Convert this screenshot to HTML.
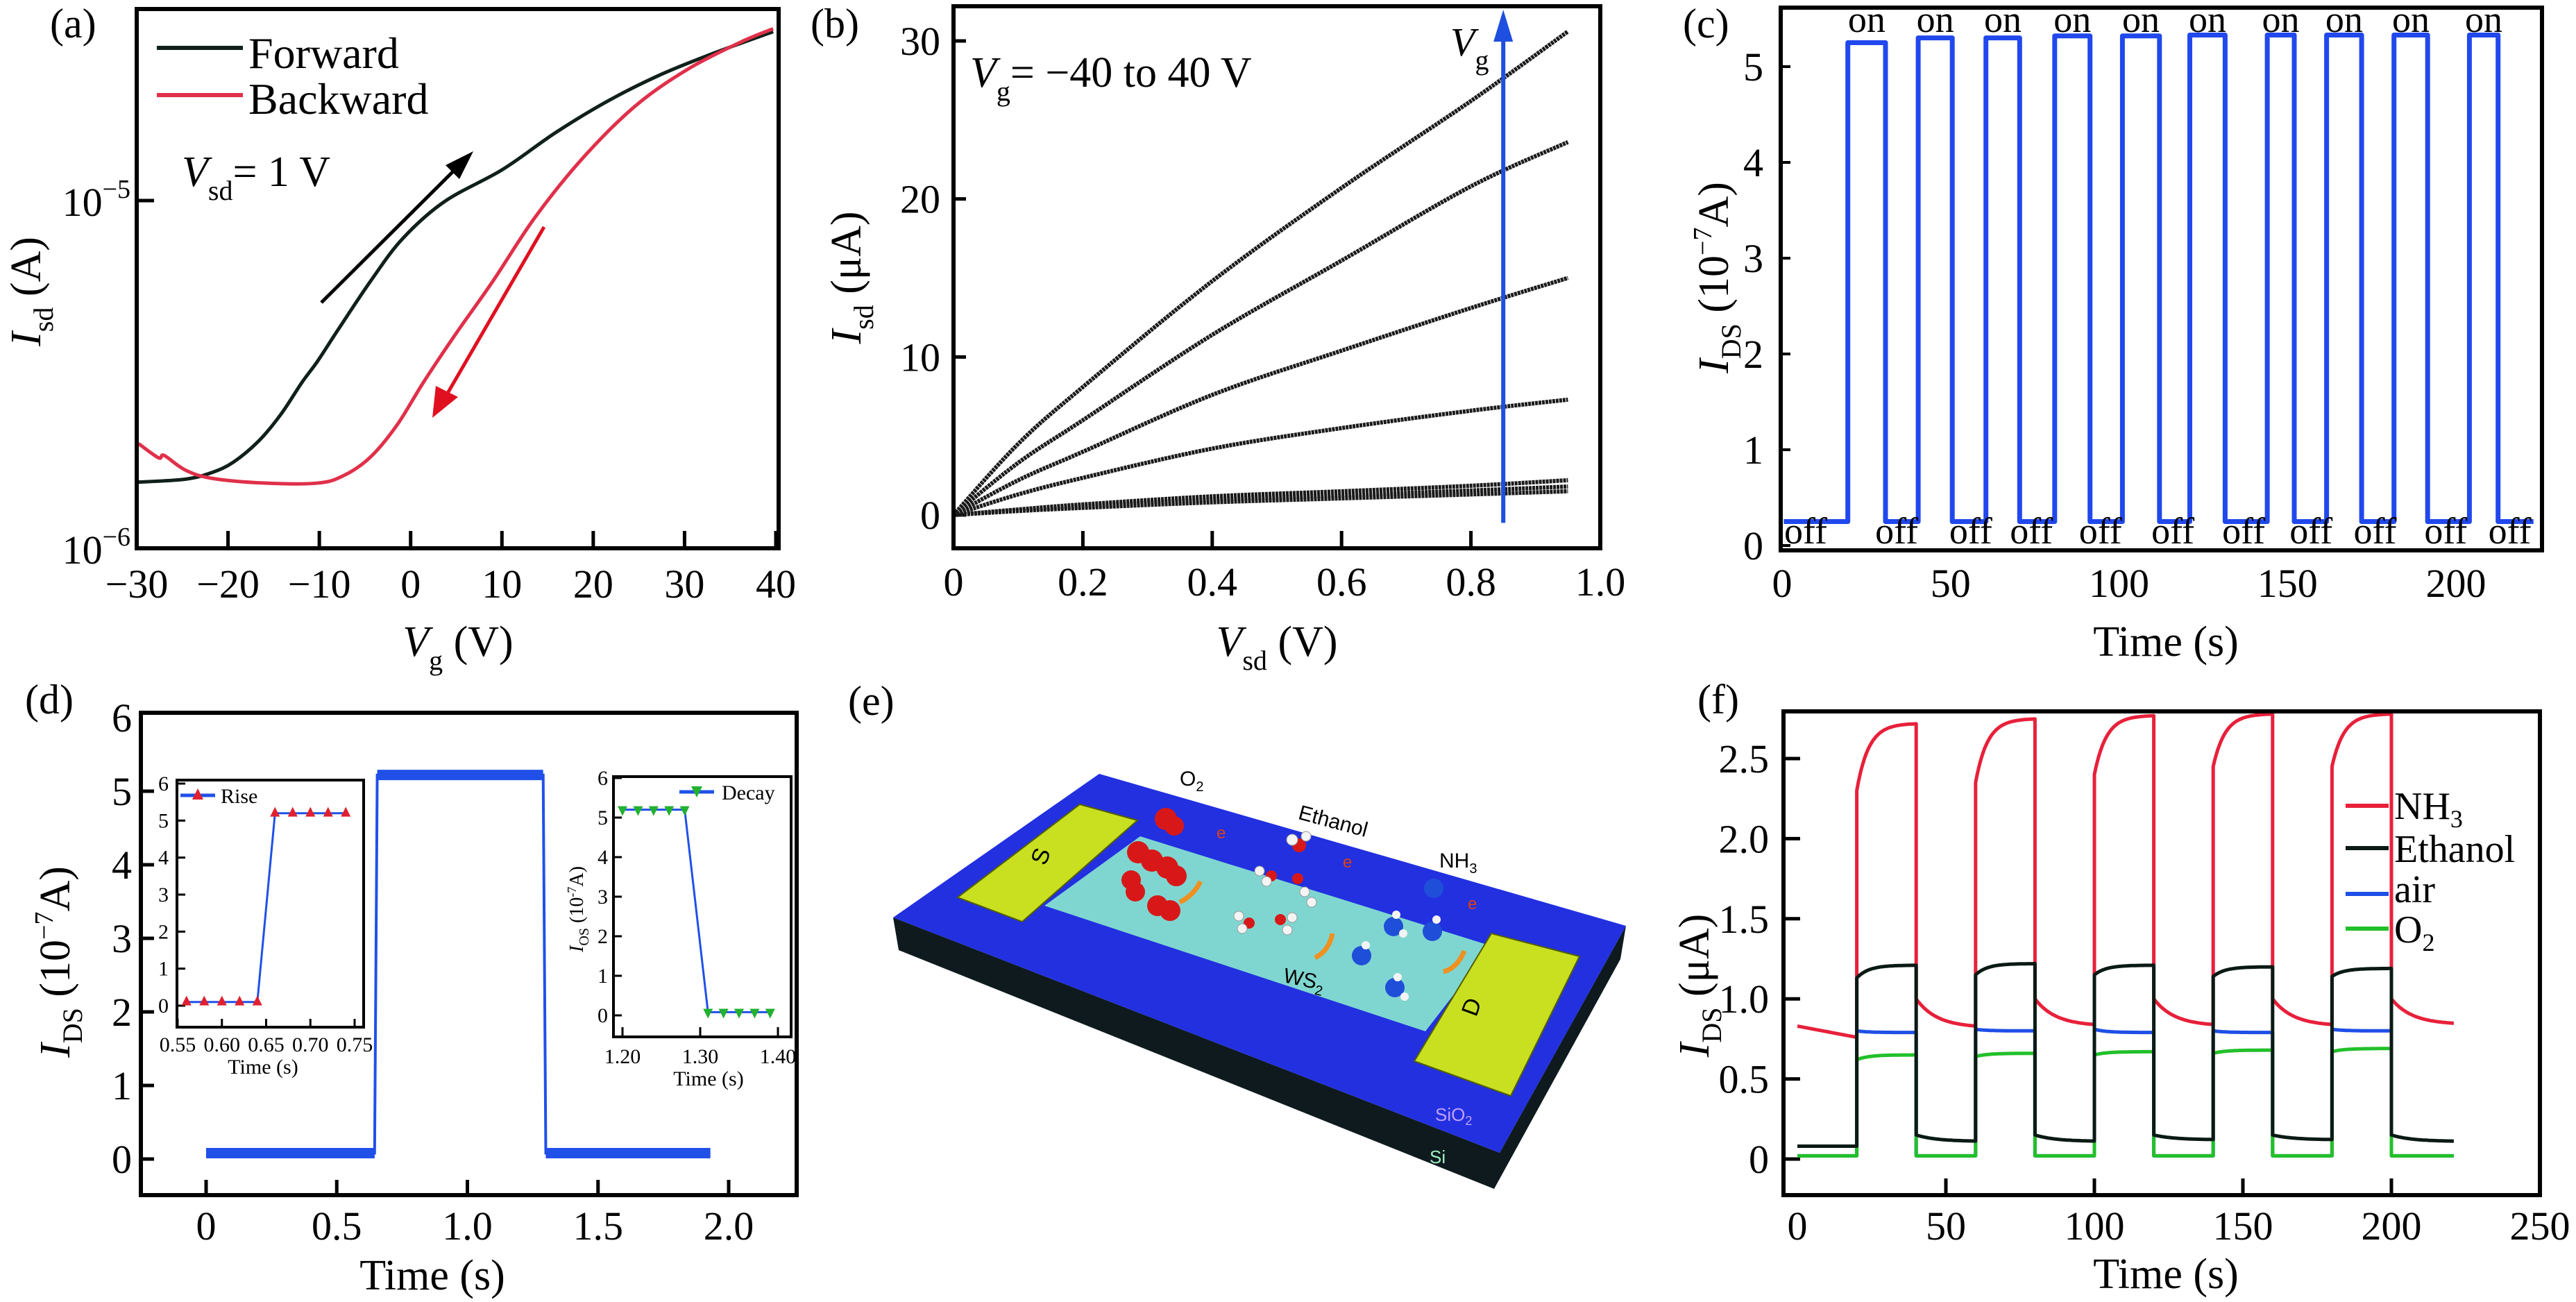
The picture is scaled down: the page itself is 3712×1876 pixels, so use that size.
<!DOCTYPE html>
<html><head><meta charset="utf-8"><style>
html,body{margin:0;padding:0;background:#fff}
svg{display:block;font-family:"Liberation Serif",serif}
</style></head><body>
<svg id="fig" width="3712" height="1876" viewBox="0 0 3712 1876" xmlns="http://www.w3.org/2000/svg">
<rect x="0" y="0" width="3712" height="1876" fill="#fff"/>
<text x="72" y="54" font-size="60">(a)</text>
<text x="1168" y="54" font-size="60">(b)</text>
<text x="2425" y="54" font-size="60">(c)</text>
<text x="36" y="1028" font-size="60">(d)</text>
<text x="1222" y="1030" font-size="60">(e)</text>
<text x="2446" y="1028" font-size="60">(f)</text>

<g>
<line x1="226" y1="69" x2="350" y2="69" stroke="#10201a" stroke-width="6"/>
<text x="358" y="98" font-size="64">Forward</text>
<line x1="226" y1="137" x2="350" y2="137" stroke="#e0304a" stroke-width="6"/>
<text x="358" y="164" font-size="64">Backward</text>
</g>
<text x="262" y="268" font-size="62"><tspan font-style="italic">V</tspan><tspan font-size="40" dy="20">sd</tspan><tspan dy="-20">= 1 V</tspan></text>
<text transform="translate(58,420) rotate(-90)" text-anchor="middle" font-size="62"><tspan font-style="italic">I</tspan><tspan font-size="40" dy="18">sd</tspan><tspan dy="-18"> (A)</tspan></text>
<text x="660" y="945" text-anchor="middle" font-size="62"><tspan font-style="italic">V</tspan><tspan font-size="40" dy="20">g</tspan><tspan dy="-20"> (V)</tspan></text>

<text x="1398" y="125" font-size="62"><tspan font-style="italic">V</tspan><tspan font-size="40" dy="20">g</tspan><tspan dy="-20">= −40 to 40 V</tspan></text>
<text x="2090" y="80" font-size="58"><tspan font-style="italic">V</tspan><tspan font-size="40" dy="20">g</tspan></text>
<text transform="translate(1240,400) rotate(-90)" text-anchor="middle" font-size="62"><tspan font-style="italic">I</tspan><tspan font-size="40" dy="18">sd</tspan><tspan dy="-18"> (μA)</tspan></text>
<text x="1840" y="945" text-anchor="middle" font-size="62"><tspan font-style="italic">V</tspan><tspan font-size="40" dy="20">sd</tspan><tspan dy="-20"> (V)</tspan></text>

<text transform="translate(2490,400) rotate(-90)" text-anchor="middle" font-size="62"><tspan font-style="italic">I</tspan><tspan font-size="40" dy="18">DS</tspan><tspan dy="-18"> (10</tspan><tspan font-size="38" dy="-24">−7</tspan><tspan dy="24">A)</tspan></text>
<text x="3121" y="945" text-anchor="middle" font-size="62">Time (s)</text>

<text transform="translate(100,1386) rotate(-90)" text-anchor="middle" font-size="62"><tspan font-style="italic">I</tspan><tspan font-size="40" dy="18">DS</tspan><tspan dy="-18"> (10</tspan><tspan font-size="38" dy="-24">−7</tspan><tspan dy="24">A)</tspan></text>
<text x="623" y="1858" text-anchor="middle" font-size="62">Time (s)</text>
<text x="379" y="1547" text-anchor="middle" font-size="30">Time (s)</text>
<text x="1021" y="1564" text-anchor="middle" font-size="30">Time (s)</text>
<text transform="translate(840,1310) rotate(-90)" text-anchor="middle" font-size="28"><tspan font-style="italic">I</tspan><tspan font-size="20" dy="8">OS</tspan><tspan dy="-8"> (10</tspan><tspan font-size="18" dy="-10">-7</tspan><tspan dy="10">A)</tspan></text>

<text transform="translate(2462,1420) rotate(-90)" text-anchor="middle" font-size="62"><tspan font-style="italic">I</tspan><tspan font-size="40" dy="18">DS</tspan><tspan dy="-18"> (μA)</tspan></text>
<text x="3121" y="1856" text-anchor="middle" font-size="62">Time (s)</text>

<g font-family="'Liberation Sans',sans-serif">
<polygon points="1287,1322 2161,1661 2343,1334 2335,1382 2153,1713 1295,1369" fill="#0e1a1e"/>
<polygon points="1584,1115 2343,1334 2161,1661 1287,1322" fill="#2230e0"/>
<polygon points="1643,1205 2149,1363 2054,1486 1505,1305" fill="#7fd6d0"/>
<polygon points="1556,1159 1639,1182 1473,1328 1380,1293" fill="#c8e020" stroke="#556000" stroke-width="2"/>
<polygon points="2149,1345 2276,1378 2177,1579 2038,1529" fill="#c8e020" stroke="#556000" stroke-width="2"/>
<text x="1500" y="1245" font-size="34" transform="rotate(-70 1500 1234)" text-anchor="middle">S</text>
<text x="2121" y="1462" font-size="34" transform="rotate(-70 2121 1451)" text-anchor="middle">D</text>
<text x="1700" y="1132" font-size="30">O<tspan font-size="20" dy="8">2</tspan></text>
<text x="1872" y="1180" font-size="30" transform="rotate(15 1872 1170)">Ethanol</text>
<text x="2074" y="1250" font-size="30">NH<tspan font-size="20" dy="8">3</tspan></text>
<text x="1850" y="1415" font-size="30" transform="rotate(12 1850 1405)">WS<tspan font-size="20" dy="8">2</tspan></text>
<text x="2068" y="1615" font-size="26" fill="#c0a0ff">SiO<tspan font-size="18" dy="6">2</tspan></text>
<text x="2060" y="1676" font-size="26" fill="#a0f0c0">Si</text>
<g fill="#d81818">
<circle cx="1680" cy="1180" r="16"/><circle cx="1692" cy="1190" r="14"/>
<circle cx="1640" cy="1228" r="16"/><circle cx="1660" cy="1240" r="16"/><circle cx="1682" cy="1250" r="16"/><circle cx="1695" cy="1262" r="15"/>
<circle cx="1630" cy="1268" r="14"/><circle cx="1636" cy="1285" r="14"/>
<circle cx="1668" cy="1305" r="15"/><circle cx="1686" cy="1312" r="15"/>
<circle cx="1872" cy="1218" r="10"/><circle cx="1832" cy="1262" r="8"/><circle cx="1870" cy="1266" r="8"/><circle cx="1800" cy="1330" r="8"/><circle cx="1845" cy="1325" r="8"/>
</g>
<g fill="#f4f4f4" stroke="#999" stroke-width="1">
<circle cx="1862" cy="1210" r="8"/><circle cx="1882" cy="1205" r="7"/><circle cx="1815" cy="1255" r="7"/><circle cx="1825" cy="1270" r="7"/><circle cx="1880" cy="1285" r="7"/><circle cx="1890" cy="1300" r="7"/><circle cx="1785" cy="1320" r="7"/><circle cx="1790" cy="1338" r="7"/><circle cx="1855" cy="1340" r="7"/><circle cx="1862" cy="1322" r="7"/>
</g>
<g fill="#1f4fd8">
<circle cx="2066" cy="1280" r="14"/><circle cx="2008" cy="1335" r="14"/><circle cx="2064" cy="1342" r="14"/><circle cx="1962" cy="1377" r="14"/><circle cx="2010" cy="1423" r="14"/>
</g>
<g fill="#f4f4f4"><circle cx="2012" cy="1318" r="6"/><circle cx="2022" cy="1345" r="6"/><circle cx="2070" cy="1325" r="6"/><circle cx="1968" cy="1362" r="6"/><circle cx="2014" cy="1408" r="6"/><circle cx="2024" cy="1436" r="6"/></g>
<g fill="none" stroke="#f09020" stroke-width="7">
<path d="M1700,1300 q20,-10 30,-30"/><path d="M1895,1380 q20,-10 25,-35"/><path d="M2080,1400 q20,-5 30,-30"/>
</g>
<g font-size="24" fill="#e04010"><text x="1753" y="1208">e</text><text x="1935" y="1250">e</text><text x="2115" y="1310">e</text></g>
</g>

<g id="plots"></g>

<g><line x1="260" y1="1146" x2="310" y2="1146" stroke="#2050e8" stroke-width="5"/><polygon points="285,1136 277,1152 293,1152" fill="#e02030"/><text x="318" y="1157" font-size="30">Rise</text></g>
<g><line x1="979" y1="1141" x2="1029" y2="1141" stroke="#2050e8" stroke-width="5"/><polygon points="996,1133 1012,1133 1004,1149" fill="#22b030"/><text x="1040" y="1152" font-size="30">Decay</text></g>
<g font-size="56">
<line x1="3380" y1="1161" x2="3442" y2="1161" stroke="#e8203a" stroke-width="6"/><text x="3450" y="1180">NH<tspan font-size="36" dy="12">3</tspan></text>
<line x1="3380" y1="1222" x2="3442" y2="1222" stroke="#0a1a14" stroke-width="6"/><text x="3450" y="1242">Ethanol</text>
<line x1="3380" y1="1288" x2="3442" y2="1288" stroke="#1f4fe6" stroke-width="6"/><text x="3450" y="1300">air</text>
<line x1="3380" y1="1338" x2="3442" y2="1338" stroke="#22c02a" stroke-width="6"/><text x="3450" y="1358">O<tspan font-size="36" dy="12">2</tspan></text>
</g>
</svg>
<script>
// panel a (current in μA)
const aForwardV = [-29.8,-24.7,-21.8,-19.4,-16.6,-14.2,-11.9,-10.2,-7.9,-4.4,-0.9,3.7,10.1,15.9,21.7,27.5,33.3,39.7];
const aForwardI = [1.55,1.58,1.65,1.77,2.04,2.43,3.0,3.45,4.27,5.86,7.76,9.93,12.3,15.7,19.4,23.1,26.6,30.6];
const aBackwardV = [-29.8,-27.6,-27.0,-24.7,-21.8,-16.0,-10.2,-7.3,-4.4,-1.5,1.4,4.9,9.0,13.6,18.8,24.6,30.4,36.2,39.7];
const aBackwardI = [2.0,1.82,1.85,1.68,1.59,1.54,1.54,1.62,1.83,2.26,3.0,4.12,5.86,8.93,13.2,18.7,23.9,28.6,31.2];
const aXTicks = [-30,-20,-10,0,10,20,30,40];
// panel b
const bVsd = [0,0.1,0.2,0.4,0.6,0.8,0.95];
const bCurve1 = [0,4.5,8.1,14.8,20.7,26.2,30.6];
const bCurve2 = [0,3.3,6.0,11.4,16.1,20.8,23.6];
const bCurve3 = [0,2.2,4.0,7.6,10.4,13.1,15.0];
const bCurve4 = [0,1.3,2.35,4.2,5.5,6.6,7.3];
const bCurve5 = [0,0.35,0.67,1.18,1.5,1.85,2.2];
const bCurve6 = [0,0.3,0.55,0.95,1.25,1.55,1.8];
const bCurve7 = [0,0.25,0.45,0.8,1.05,1.3,1.5];
const bXTicks = [0,0.2,0.4,0.6,0.8,1.0];
const bXTickLabels = ['0','0.2','0.4','0.6','0.8','1.0'];
const bYTicks = [0,10,20,30];
// panel c
const cOnStart = [19.5,40.4,60.5,80.9,101,121,144,161.6,181.6,204];
const cOnEnd = [30.7,50.5,70.5,91.4,112,131.5,152,172,191.6,212.5];
const cOnLevel = [5.25,5.3,5.3,5.32,5.32,5.33,5.33,5.33,5.33,5.33];
const cOffLevel = [0.25];
const cTimeRange = [0.5,223];
const cOffLabelT = [7,34,56,74,94.5,116,137,157,176,197,216];
const cXTicks = [0,50,100,150,200];
const cYTicks = [0,1,2,3,4,5];
// panel d
const dTime = [0,0.645,0.655,1.29,1.30,1.93];
const dCurrent = [0.08,0.08,5.22,5.22,0.08,0.08];
const dXTicks = [0,0.5,1.0,1.5,2.0];
const dXTickLabels = ['0','0.5','1.0','1.5','2.0'];
const dYTicks = [0,1,2,3,4,5,6];
const riseT = [0.56,0.58,0.60,0.62,0.64,0.66,0.68,0.70,0.72,0.74];
const riseV = [0.1,0.1,0.1,0.1,0.1,5.2,5.2,5.2,5.2,5.2];
const riseXTicks = [0.55,0.60,0.65,0.70,0.75];
const riseXTickLabels = ['0.55','0.60','0.65','0.70','0.75'];
const decayT = [1.20,1.22,1.24,1.26,1.28,1.31,1.33,1.35,1.37,1.39];
const decayV = [5.2,5.2,5.2,5.2,5.2,0.08,0.08,0.08,0.08,0.08];
const decayXTicks = [1.20,1.30,1.40];
const decayXTickLabels = ['1.20','1.30','1.40'];
const insetYTicks = [0,1,2,3,4,5,6];
// panel f
const fOnStart = [20,60,100,140,180];
const fOnEnd = [40,80,120,160,200];
const fTimeEnd = [221];
const nh3Init = [0.83,0.76];
const nh3OnFirst = [2.3,2.35,2.4,2.45,2.45];
const nh3OnPeak = [2.72,2.75,2.77,2.78,2.78];
const nh3OffFirst = [1.0,1.0,1.0,1.0,1.0];
const nh3OffLast = [0.82,0.83,0.83,0.83,0.84];
const ethInit = [0.08,0.08];
const ethOnFirst = [1.13,1.15,1.15,1.14,1.14];
const ethOnPeak = [1.21,1.22,1.21,1.20,1.19];
const ethOffFirst = [0.15,0.15,0.15,0.15,0.15];
const ethOffLast = [0.11,0.11,0.12,0.12,0.11];
const airInit = [0.02,0.02];
const airOnFirst = [0.80,0.81,0.81,0.80,0.81];
const airOnPeak = [0.79,0.80,0.79,0.79,0.80];
const airOffFirst = [0.02,0.02,0.02,0.02,0.02];
const airOffLast = [0.02,0.02,0.02,0.02,0.02];
const o2Init = [0.02,0.02];
const o2OnFirst = [0.62,0.64,0.65,0.66,0.67];
const o2OnPeak = [0.65,0.66,0.67,0.68,0.69];
const o2OffFirst = [0.02,0.02,0.02,0.02,0.02];
const o2OffLast = [0.02,0.02,0.02,0.02,0.02];
const fXTicks = [0,50,100,150,200,250];
const fYTicks = [0,0.5,1.0,1.5,2.0,2.5];
const fYTickLabels = ['0','0.5','1.0','1.5','2.0','2.5'];

const NS='http://www.w3.org/2000/svg';
const root=document.getElementById('plots');
function mk(tag,attrs,parent){const e=document.createElementNS(NS,tag);for(const k in attrs)e.setAttribute(k,attrs[k]);(parent||root).appendChild(e);return e;}
function lin(d0,d1,r0,r1){return v=>r0+(v-d0)/(d1-d0)*(r1-r0);}
function poly(xs,ys,sx,sy){return xs.map((x,i)=>(i?'L':'M')+sx(x).toFixed(1)+' '+sy(ys[i]).toFixed(1)).join(' ');}
function smooth(xs,ys,sx,sy){const P=xs.map((x,i)=>[sx(x),sy(ys[i])]);let d='M'+P[0][0]+' '+P[0][1];for(let i=0;i<P.length-1;i++){const p0=P[Math.max(0,i-1)],p1=P[i],p2=P[i+1],p3=P[Math.min(P.length-1,i+2)];const c1=[p1[0]+(p2[0]-p0[0])/6,p1[1]+(p2[1]-p0[1])/6],c2=[p2[0]-(p3[0]-p1[0])/6,p2[1]-(p3[1]-p1[1])/6];d+=' C'+c1.join(' ')+' '+c2.join(' ')+' '+p2.join(' ');}return d;}
function frame(x0,y0,x1,y1,w,name){const r=mk('rect',{x:x0,y:y0,width:x1-x0,height:y1-y0,fill:'none',stroke:'#000','stroke-width':w});return r;}
function label(x,y,s,size,anchor,name){const t=mk('text',{x:x,y:y,'font-size':size,'text-anchor':anchor||'middle'});t.textContent=s;return t;}

// PANEL A
{
 const sx=lin(-30,40,197,1118), sy=v=>790-(Math.log10(v*1e-6)+6)*501;
 const g=mk('g',{});
 aXTicks.forEach(t=>{const l=mk('line',{x1:sx(t),x2:sx(t),y1:790,y2:765,stroke:'#000','stroke-width':5},g);
  label(sx(t),861,t<0?'−'+Math.abs(t):String(t),58,'middle','x-tick-label');});
 const yt=mk('line',{x1:197,x2:222,y1:sy(10),y2:sy(10),stroke:'#000','stroke-width':5},g);
 [[1,'−6'],[10,'−5']].forEach(([v,e])=>{const t=mk('text',{x:188,y:sy(v)+22,'font-size':58,'text-anchor':'end'});t.textContent='10';const s=mk('tspan',{'font-size':38,dy:-26},t);s.textContent=e;});
 const fw=mk('path',{d:smooth(aForwardV,aForwardI,sx,sy),fill:'none',stroke:'#10201a','stroke-width':5},g);
 const bw=mk('path',{d:smooth(aBackwardV,aBackwardI,sx,sy),fill:'none',stroke:'#e0304a','stroke-width':5},g);
 const a1=mk('line',{x1:463,y1:436,x2:668,y2:232,stroke:'#000','stroke-width':5},g);
 const a1h=mk('polygon',{points:'682,218 642,238 662,258',fill:'#000'},g);
 const a2=mk('line',{x1:784,y1:327,x2:636,y2:582,stroke:'#e01020','stroke-width':5},g);
 const a2h=mk('polygon',{points:'623,602 628,556 660,572',fill:'#e01020'},g);
 frame(197,13,1122,790,6,'panel-a-axes-frame');
}
// PANEL B
{
 const sx=lin(0,1,1374,2306), sy=lin(0,30,742,59);
 const g=mk('g',{});
 bXTicks.forEach((t,i)=>{if(t>0&&t<1){const l=mk('line',{x1:sx(t),x2:sx(t),y1:790,y2:765,stroke:'#000','stroke-width':5},g);}
  label(sx(t),858,bXTickLabels[i],58,'middle','x-tick-label');});
 bYTicks.forEach(t=>{const l=mk('line',{x1:1374,x2:1392,y1:sy(t),y2:sy(t),stroke:'#000','stroke-width':5},g);
  label(1355,sy(t)+20,String(t),58,'end','y-tick-label');});
 [bCurve1,bCurve2,bCurve3,bCurve4,bCurve5,bCurve6,bCurve7].forEach((c,i)=>{const p=mk('path',{d:smooth(bVsd,c,sx,sy),fill:'none',stroke:'#1a1a1a','stroke-width':6,'stroke-dasharray':'4 1'},g);});
 const ar=mk('line',{x1:sx(0.85),x2:sx(0.85),y1:sy(-0.5),y2:sy(30.5),stroke:'#1f4fe0','stroke-width':6},g);
 const ah=mk('polygon',{points:(sx(0.85))+',14 '+(sx(0.85)-14)+',60 '+(sx(0.85)+14)+',60',fill:'#1f4fe0'},g);
 frame(1374,9,2306,790,6,'panel-b-axes-frame');
}
// PANEL C
{
 const sx=lin(0,200,2568,3539), sy=lin(0,5,786,96);
 const g=mk('g',{});
 cXTicks.forEach(t=>label(sx(t),860,String(t),58,'middle','x-tick-label'));
 cYTicks.forEach(t=>{const l=mk('line',{x1:2566,x2:2580,y1:sy(t),y2:sy(t),stroke:'#000','stroke-width':4},g);
  label(2541,sy(t)+20,String(t),58,'end','y-tick-label');});
 let xs=[cTimeRange[0]],ys=[cOffLevel[0]];
 cOnStart.forEach((s,i)=>{xs.push(s,s,cOnEnd[i],cOnEnd[i]);ys.push(cOffLevel[0],cOnLevel[i],cOnLevel[i],cOffLevel[0]);});
 xs.push(cTimeRange[1]);ys.push(cOffLevel[0]);
 const p=mk('path',{d:poly(xs,ys,sx,sy),fill:'none',stroke:'#2048ec','stroke-width':7,'stroke-linejoin':'round'},g);
 cOnStart.forEach((s,i)=>label(sx((s+cOnEnd[i])/2),46,'on',54,'middle','on-label'));
 cOffLabelT.forEach(t=>label(sx(t),783,'off',54,'middle','off-label'));
 frame(2566,11,3663,793,6,'panel-c-axes-frame');
}
// PANEL D
{
 const sx=lin(0,2,297,1050), sy=lin(0,6,1670,1034);
 const g=mk('g',{});
 dXTicks.forEach((t,i)=>{const l=mk('line',{x1:sx(t),x2:sx(t),y1:1722,y2:1700,stroke:'#000','stroke-width':5},g);
  label(sx(t),1786,dXTickLabels[i],58,'middle','x-tick-label');});
 dYTicks.forEach(t=>{if(t<6){const l=mk('line',{x1:203,x2:222,y1:sy(t),y2:sy(t),stroke:'#000','stroke-width':5},g);}
  label(190,sy(t)+20,String(t),58,'end','y-tick-label');});
 const p=mk('path',{d:poly(dTime,dCurrent,sx,sy),fill:'none',stroke:'#2050e8','stroke-width':4},g);
 for(let i=0;i<dTime.length-1;i++){if(dCurrent[i]===dCurrent[i+1]){const h=mk('line',{x1:sx(dTime[i]),x2:sx(dTime[i+1]),y1:sy(dCurrent[i]),y2:sy(dCurrent[i]),stroke:'#2050e8','stroke-width':15},g);}}
 frame(203,1027,1148,1722,6,'panel-d-axes-frame');
 const rx=lin(0.55,0.75,256,511), ry=lin(0,6,1449,1129);
 const rb=mk('rect',{x:255,y:1124,width:269,height:356,fill:'#fff'},g);
 riseXTicks.forEach((t,i)=>{const l=mk('line',{x1:rx(t),x2:rx(t),y1:1480,y2:1468,stroke:'#000','stroke-width':3},g);
  label(rx(t),1515,riseXTickLabels[i],30,'middle','rise-x-tick-label');});
 insetYTicks.forEach(t=>{const l=mk('line',{x1:255,x2:267,y1:ry(t),y2:ry(t),stroke:'#000','stroke-width':3},g);
  label(243,ry(t)+10,String(t),30,'end','rise-y-tick-label');});
 const rp=mk('path',{d:poly(riseT,riseV,rx,ry),fill:'none',stroke:'#2050e8','stroke-width':3},g);
 riseT.forEach((t,i)=>{const x=rx(t),y=ry(riseV[i]);const m=mk('polygon',{points:x+','+(y-9)+' '+(x-7)+','+(y+5)+' '+(x+7)+','+(y+5),fill:'#e02030'},g);});
 frame(255,1124,524,1480,4,'rise-inset-frame');
 const ex=lin(1.2,1.4,897,1121), ey=lin(0,6,1463,1121);
 const db=mk('rect',{x:884,y:1119,width:256,height:375,fill:'#fff'},g);
 decayXTicks.forEach((t,i)=>{const l=mk('line',{x1:ex(t),x2:ex(t),y1:1494,y2:1480,stroke:'#000','stroke-width':3},g);
  label(ex(t),1532,decayXTickLabels[i],30,'middle','decay-x-tick-label');});
 insetYTicks.forEach(t=>{const l=mk('line',{x1:884,x2:896,y1:ey(t),y2:ey(t),stroke:'#000','stroke-width':3},g);
  label(876,ey(t)+10,String(t),30,'end','decay-y-tick-label');});
 const dp=mk('path',{d:poly(decayT,decayV,ex,ey),fill:'none',stroke:'#2050e8','stroke-width':3},g);
 decayT.forEach((t,i)=>{const x=ex(t),y=ey(decayV[i]);const m=mk('polygon',{points:(x-7)+','+(y-5)+' '+(x+7)+','+(y-5)+' '+x+','+(y+9),fill:'#22b030'},g);});
 frame(884,1119,1140,1494,4,'decay-inset-frame');
}
// PANEL F
{
 const sx=lin(0,200,2590,3446), sy=lin(0,2.5,1670,1093);
 const g=mk('g',{});
 fXTicks.forEach(t=>{if(t>0&&t<250){const l=mk('line',{x1:sx(t),x2:sx(t),y1:1722,y2:1698,stroke:'#000','stroke-width':5},g);}
  label(sx(t),1786,String(t),58,'middle','x-tick-label');});
 fYTicks.forEach((t,i)=>{const l=mk('line',{x1:2570,x2:2594,y1:sy(t),y2:sy(t),stroke:'#000','stroke-width':5},g);
  label(2549,sy(t)+20,fYTickLabels[i],58,'end','y-tick-label');});
 function series(init,onA,onB,offA,offB){
  const xs=[0,fOnStart[0]],ys=[init[0],init[1]];
  fOnStart.forEach((s,k)=>{const e=fOnEnd[k];
   for(let t=s;t<=e;t+=0.5){xs.push(t);ys.push(onB[k]+(onA[k]-onB[k])*Math.exp(-(t-s)/4));}
   const nEnd=k+1<fOnStart.length?fOnStart[k+1]:fTimeEnd[0];
   for(let t=e;t<=nEnd;t+=0.5){xs.push(t);ys.push(offB[k]+(offA[k]-offB[k])*Math.exp(-(t-e)/7));}
  });return [xs,ys];}
 const defs=[['air-trace','#1f4fe6',airInit,airOnFirst,airOnPeak,airOffFirst,airOffLast],
  ['o2-trace','#22c02a',o2Init,o2OnFirst,o2OnPeak,o2OffFirst,o2OffLast],
  ['nh3-trace','#e8203a',nh3Init,nh3OnFirst,nh3OnPeak,nh3OffFirst,nh3OffLast],
  ['ethanol-trace','#0a1a14',ethInit,ethOnFirst,ethOnPeak,ethOffFirst,ethOffLast]];
 defs.forEach(d=>{const r=series(d[2],d[3],d[4],d[5],d[6]);const p=mk('path',{d:poly(r[0],r[1],sx,sy),fill:'none',stroke:d[1],'stroke-width':5,'stroke-linejoin':'round'},g);});
 frame(2570,1025,3660,1722,6,'panel-f-axes-frame');
}
</script>
</body></html>
